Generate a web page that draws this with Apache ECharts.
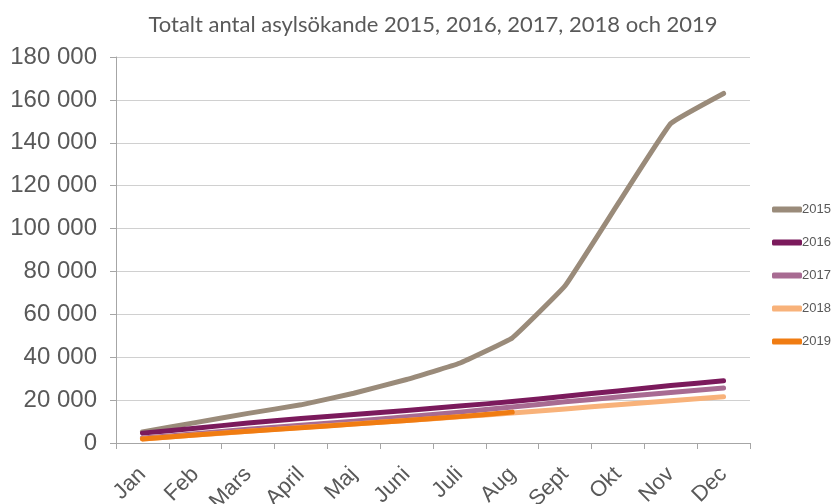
<!DOCTYPE html>
<html>
<head>
<meta charset="utf-8">
<script src="https://cdn.jsdelivr.net/npm/echarts@6/dist/echarts.min.js"></script>
<style>
  html, body { margin: 0; padding: 0; background: #fff; }
  #chart { width: 834px; height: 504px; }
</style>
</head>
<body>
<div id="chart"></div>
<script>
// months on the x axis
const months = ['Jan', 'Feb', 'Mars', 'April', 'Maj', 'Juni', 'Juli', 'Aug', 'Sept', 'Okt', 'Nov', 'Dec']
const years = ['2015', '2016', '2017', '2018', '2019']

// cumulative asylum seekers per month
const data2015 = [5200, 9500, 13800, 17800, 23200, 29600, 37200, 49000, 73300, 111500, 149000, 163000]
const data2016 = [4600, 6900, 9300, 11400, 13300, 15200, 17200, 19300, 21800, 24300, 26800, 29000]
const data2017 = [2300, 4300, 6400, 8300, 10200, 12200, 14400, 16800, 19200, 21400, 23600, 25700]
const data2018 = [1900, 3700, 5500, 7200, 8900, 10500, 12200, 14000, 15900, 17800, 19700, 21600]
const data2019 = [1900, 3700, 5500, 7100, 8800, 10500, 12300, 14400]

const colors = ['#9a8b7a', '#7b1a5c', '#a86b92', '#f8b27a', '#f07c12']

const chart = echarts.init(document.getElementById('chart'))

function line(name, values, color) {
  return {
    name: name,
    type: 'line',
    data: values,
    smooth: 0.08,
    symbol: 'none',
    lineStyle: { width: 5, color: color, cap: 'round', join: 'round' },
    itemStyle: { color: color }
  }
}

chart.setOption({
  animation: false,
  title: {
    text: 'Totalt antal asylsökande 2015, 2016, 2017, 2018 och 2019',
    left: 428,
    textAlign: 'center',
    top: 9,
    textStyle: {
      fontFamily: 'Lato',
      fontSize: 22,
      fontWeight: 'normal',
      color: '#595959'
    }
  },
  legend: {
    orient: 'vertical',
    left: 767,
    top: 198,
    itemWidth: 30,
    itemHeight: 6,
    itemGap: 20,
    icon: 'roundRect',
    data: years,
    textStyle: { fontFamily: 'Liberation Sans', fontSize: 13, color: '#595959', padding: [0, 0, 0, -5] }
  },
  grid: {
    left: 116,
    right: 84,
    top: 57,
    bottom: 61,
    containLabel: false,
    outerBoundsMode: 'none'
  },
  xAxis: {
    type: 'category',
    data: months,
    boundaryGap: true,
    axisLine: { lineStyle: { color: '#a6a6a6', width: 1 } },
    axisTick: { show: true, length: 6, lineStyle: { color: '#a6a6a6' } },
    axisLabel: {
      rotate: 45,
      interval: 0,
      margin: 28,
      fontFamily: 'Liberation Sans',
      fontSize: 22,
      color: '#595959'
    }
  },
  yAxis: {
    type: 'value',
    min: 0,
    max: 180000,
    interval: 20000,
    axisLine: { show: true, lineStyle: { color: '#a6a6a6', width: 1 } },
    axisTick: { show: true, length: 6, lineStyle: { color: '#a6a6a6' } },
    splitLine: { lineStyle: { color: '#d0d0d0', width: 1 } },
    axisLabel: {
      margin: 19,
      fontFamily: 'Liberation Sans',
      fontSize: 24,
      color: '#595959',
      formatter: function (v) {
        return String(v).replace(/\B(?=(\d{3})+(?!\d))/g, ' ')
      }
    }
  },
  series: [
    line('2015', data2015, colors[0]),
    line('2016', data2016, colors[1]),
    line('2017', data2017, colors[2]),
    line('2018', data2018, colors[3]),
    line('2019', data2019, colors[4])
  ]
})
</script>
</body>
</html>
